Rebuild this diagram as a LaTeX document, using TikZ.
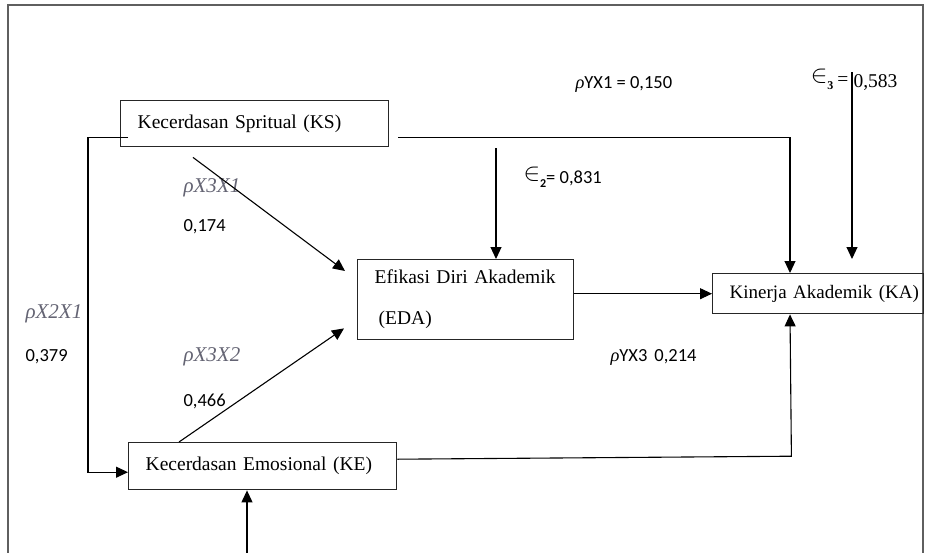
\documentclass[tikz,border=0pt]{standalone}
\usepackage{fontspec}
\setmainfont{Liberation Serif}
\newfontfamily\calfont{Carlito}
\usetikzlibrary{positioning}
\usetikzlibrary{shapes,arrows,arrows.meta}
\definecolor{framegray}{RGB}{95,95,95}
\definecolor{coefgray}{RGB}{100,100,115}
\newcommand{\rhoit}{{\rmfamily\itshape ρ}}
\newcommand{\coefit}[1]{{\color{coefgray}\rmfamily\itshape\fontsize{21}{24}\selectfont #1}}
\newcommand{\epsres}[1]{\raisebox{3pt}{\fontsize{25}{25}\selectfont$\in$}\raisebox{-4pt}{\fontsize{12}{12}\selectfont\bfseries #1}}

\begin{document}
\begin{tikzpicture}[x=1pt,y=-1pt,->,>={Triangle[length=12pt,width=11pt]},line width=1.1pt]
\tikzset{BoxStyle/.style = {draw=black!85,rectangle,line width=1.4pt,
                            anchor=north west,inner xsep=17pt,inner ysep=0pt,
                            align=left,font=\fontsize{19.5}{23}\selectfont},
         CoefStyle/.style = {anchor=west,inner sep=0pt,
                             font=\calfont\fontsize{18.5}{22}\selectfont}}
\useasboundingbox (0,0) rectangle (925,552);
\draw[-,framegray,line width=1.6pt] (8,560) -- (8,5) -- (923,5) -- (923,560);

\node[BoxStyle,text width=234pt,minimum height=46pt] (KS) at (120,100) {Kecerdasan Spritual (KS)};
\node[BoxStyle,text width=234pt,minimum height=47pt] (KE) at (128,442) {Kecerdasan Emosional (KE)};
\node[BoxStyle,text width=182pt,minimum height=80pt] (EDA) at (357,259) {Efikasi Diri Akademik\\[18pt]\hspace*{4pt}(EDA)};
\node[BoxStyle,text width=177pt,minimum height=40pt] (KA) at (712,273) {\mbox{\fontsize{19}{23}\selectfont Kinerja Akademik (KA)}};

\node[CoefStyle] (cX2X1) at (25,314) {\coefit{ρX2X1}};
\node[CoefStyle] (vX2X1) at (25,357) {0,379};
\node[CoefStyle] (cX3X1) at (183,188) {\coefit{ρX3X1}};
\node[CoefStyle] (vX3X1) at (183,227) {0,174};
\node[CoefStyle] (cX3X2) at (183,357) {\coefit{ρX3X2}};
\node[CoefStyle] (vX3X2) at (183,401) {0,466};
\node[CoefStyle] (cYX1) at (575,84) {\rhoit YX1 = 0,150};
\node[CoefStyle] (cYX3) at (610,357) {\rhoit YX3\hspace{7pt}0,214};
\node[CoefStyle] (e2) at (523,177) {\epsres{2}= 0,831};
\node[anchor=east,inner sep=0pt,font=\fontsize{19.5}{23}\selectfont] (e3) at (849,79) {\epsres{3}\hspace{4pt}=};
\node[anchor=west,inner sep=0pt,font=\fontsize{19.5}{23}\selectfont] (e3v) at (853,83) {0,583};

\coordinate (e3top) at (852,72);
\coordinate (e2top) at (496,148);
\coordinate (kebot) at (247,560);

% paths between the variables
\draw ([xshift=9pt,yshift=10pt]KS.south east) -| ([xshift=78pt]KA.north west);
\draw ([xshift=8pt,yshift=10pt]KS.south west) -- ++(-40,0) |- ([yshift=-6pt]KE.west);
\draw ([xshift=73pt,yshift=-10pt]KS.south west) -- ([xshift=-12pt,yshift=-12pt]EDA.north west);
\draw ([xshift=51pt]KE.north west) -- ([xshift=-13pt,yshift=12pt]EDA.south west);
\draw (EDA.east |- KA.west) -- (KA.west);
\draw ([yshift=7pt]KE.east) -- ++(394,-3) -- ([xshift=78pt]KA.south west);
\draw (e2top) -- (e2top |- EDA.north);
\draw (e3top) -- ([xshift=140pt,yshift=14pt]KA.north west);
\draw (kebot) -- (kebot |- KE.south);
\end{tikzpicture}
\end{document}
